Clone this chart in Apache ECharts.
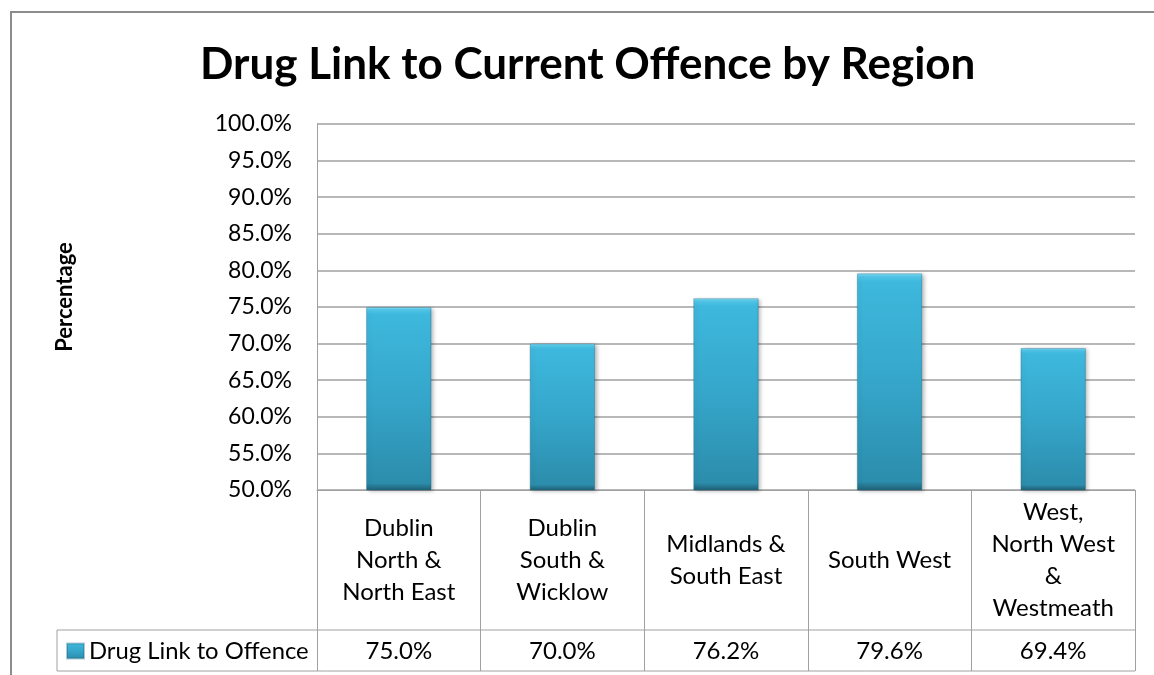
<!DOCTYPE html>
<html>
<head>
<meta charset="utf-8">
<title>Drug Link to Current Offence by Region</title>
<script src="https://cdn.jsdelivr.net/npm/echarts@6/dist/echarts.min.js"></script>
<style>
  html, body { margin: 0; padding: 0; background: #fff; }
  #chart { width: 1154px; height: 675px; }
</style>
</head>
<body>
<div id="chart"></div>
<script>
// Regions shown along the category axis / data table
const categories = [
  'Dublin\nNorth &\nNorth East',
  'Dublin\nSouth &\nWicklow',
  'Midlands &\nSouth East',
  'South West',
  'West,\nNorth West\n&\nWestmeath'
];
// Share of offenders with a drug link to the current offence (%)
const drugLinkPct = [75.0, 70.0, 76.2, 79.6, 69.4];
const seriesName = 'Drug Link to Offence';
// Value axis range and step (%)
const yMin = 50, yMax = 100, yStep = 5;

const FONT = 'Lato, "Open Sans", sans-serif';
const LINE = '#a0a0a0';

const chart = echarts.init(document.getElementById('chart'), null, { renderer: 'canvas' });

const barFill = new echarts.graphic.LinearGradient(0, 0, 0, 1, [
  { offset: 0.00, color: '#8ae2f8' },
  { offset: 0.015, color: '#52c6e8' },
  { offset: 0.04, color: '#3eb8dd' },
  { offset: 0.5, color: '#35a6ca' },
  { offset: 0.96, color: '#2c8dac' },
  { offset: 0.985, color: '#246f87' },
  { offset: 1.00, color: '#1f6075' }
]);

chart.setOption({
  animation: false,
  textStyle: { fontFamily: FONT, color: '#000' },
  title: {
    text: 'Drug Link to Current Offence by Region',
    left: 200,
    top: 43,
    padding: 0,
    textStyle: { fontFamily: FONT, fontSize: 44, fontWeight: 'bold', color: '#000' }
  },
  legend: {
    data: [seriesName],
    left: 61,
    top: 634,
    icon: 'rect',
    itemWidth: 17,
    itemHeight: 15,
    itemGap: 5,
    selectedMode: false,
    textStyle: { fontFamily: FONT, fontSize: 23.8, color: '#000' }
  },
  grid: { left: 317, right: 19, top: 124, bottom: 185, containLabel: false },
  xAxis: [
    {
      type: 'category',
      data: categories,
      axisLine: { show: true, lineStyle: { color: LINE, width: 1 } },
      axisTick: { show: true, interval: 0, length: 181, lineStyle: { color: LINE, width: 1 } },
      axisLabel: {
        interval: 0,
        margin: 70,
        verticalAlign: 'middle',
        align: 'center',
        lineHeight: 32,
        fontFamily: FONT,
        fontSize: 24,
        color: '#000'
      }
    },
    {
      type: 'category',
      position: 'bottom',
      data: drugLinkPct.map(v => v.toFixed(1) + '%'),
      axisLine: { show: false },
      axisTick: { show: false },
      axisLabel: {
        interval: 0,
        margin: 161,
        verticalAlign: 'middle',
        fontFamily: FONT,
        fontSize: 24,
        color: '#000'
      }
    }
  ],
  yAxis: {
    type: 'value',
    min: yMin,
    max: yMax,
    interval: yStep,
    axisLine: { show: true, lineStyle: { color: LINE, width: 1 } },
    axisTick: { show: false },
    splitLine: { show: true, lineStyle: { color: LINE, width: 1.5 } },
    axisLabel: {
      margin: 25,
      fontFamily: FONT,
      fontSize: 23,
      color: '#000',
      formatter: v => v.toFixed(1) + '%'
    }
  },
  series: [{
    name: seriesName,
    type: 'bar',
    data: drugLinkPct,
    barWidth: '40%',
    itemStyle: {
      color: barFill,
      borderColor: 'rgba(30,100,125,0.35)',
      borderWidth: 1,
      shadowColor: 'rgba(0,0,0,0.28)',
      shadowBlur: 4,
      shadowOffsetX: 2,
      shadowOffsetY: 1
    }
  }],
  graphic: [
    // chart frame
    { type: 'rect', silent: true, shape: { x: 11, y: 12, width: 1160, height: 680 },
      style: { fill: null, stroke: '#8c8c8c', lineWidth: 2 }, z: -1 },
    // value axis title
    { type: 'text', silent: true, x: 65, y: 297, rotation: Math.PI / 2,
      style: { text: 'Percentage', fontFamily: FONT, fontSize: 22, fontWeight: 'bold',
               fill: '#000', align: 'center', verticalAlign: 'middle' } },
    // data table rows around the legend key cell
    { type: 'line', silent: true, shape: { x1: 57, y1: 630, x2: 1135, y2: 630 },
      style: { stroke: LINE, lineWidth: 1 } },
    { type: 'line', silent: true, shape: { x1: 57, y1: 671, x2: 1135, y2: 671 },
      style: { stroke: LINE, lineWidth: 1 } },
    { type: 'line', silent: true, shape: { x1: 57, y1: 630, x2: 57, y2: 671 },
      style: { stroke: LINE, lineWidth: 1 } }
  ]
});
</script>
</body>
</html>
